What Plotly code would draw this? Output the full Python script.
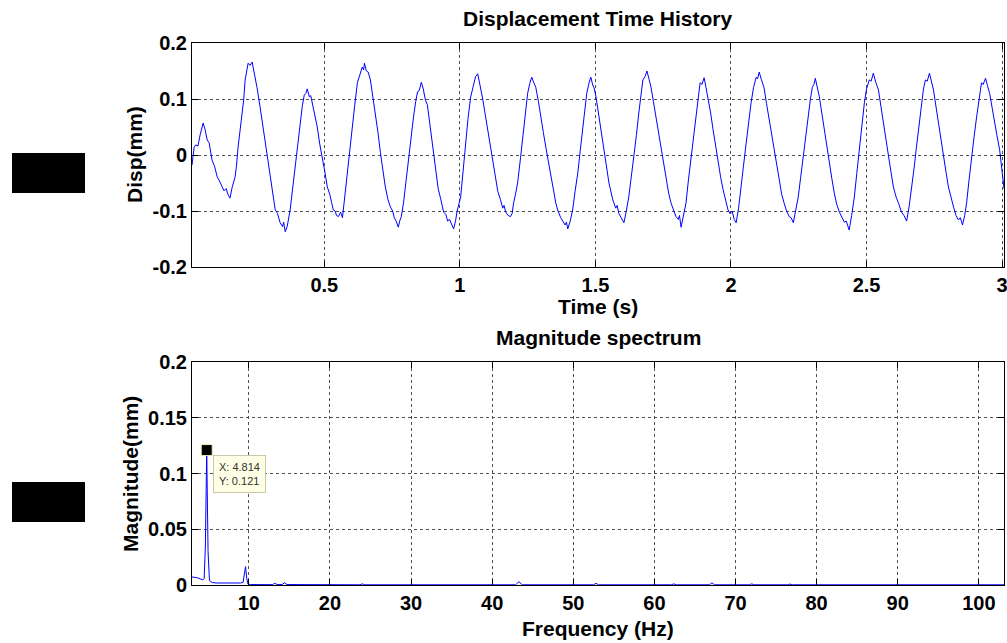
import plotly.graph_objects as go

# ---------------- data ----------------
time_s = [
    0.012, 0.016, 0.020, 0.026, 0.034, 0.042, 0.053, 0.060, 0.068, 0.075,
    0.086, 0.095, 0.105, 0.112, 0.123, 0.130, 0.138, 0.145, 0.152, 0.160,
    0.171, 0.176, 0.182, 0.190, 0.197, 0.203, 0.208, 0.214, 0.219, 0.226,
    0.234, 0.240, 0.245, 0.252, 0.263, 0.272, 0.282, 0.290, 0.300, 0.310,
    0.319, 0.327, 0.337, 0.346, 0.350, 0.356, 0.363, 0.374, 0.384, 0.393,
    0.402, 0.411, 0.419, 0.426, 0.432, 0.437, 0.445, 0.450, 0.456, 0.465,
    0.474, 0.483, 0.493, 0.502, 0.511, 0.520, 0.527, 0.533, 0.540, 0.545,
    0.552, 0.560, 0.567, 0.576, 0.585, 0.594, 0.603, 0.612, 0.622, 0.630,
    0.636, 0.640, 0.645, 0.648, 0.655, 0.662, 0.670, 0.680, 0.689, 0.698,
    0.707, 0.716, 0.725, 0.735, 0.744, 0.752, 0.758, 0.765, 0.773, 0.778,
    0.784, 0.792, 0.800, 0.810, 0.820, 0.829, 0.837, 0.844, 0.850, 0.858,
    0.865, 0.873, 0.880, 0.892, 0.900, 0.910, 0.920, 0.930, 0.940, 0.948,
    0.955, 0.962, 0.970, 0.977, 0.984, 0.990, 1.003, 1.012, 1.021, 1.030,
    1.040, 1.048, 1.058, 1.066, 1.072, 1.077, 1.085, 1.095, 1.104, 1.113,
    1.122, 1.132, 1.140, 1.150, 1.158, 1.163, 1.169, 1.178, 1.187, 1.193,
    1.198, 1.206, 1.213, 1.224, 1.235, 1.242, 1.250, 1.258, 1.265, 1.272,
    1.280, 1.290, 1.298, 1.308, 1.317, 1.326, 1.335, 1.345, 1.354, 1.362,
    1.372, 1.380, 1.388, 1.393, 1.398, 1.407, 1.416, 1.425, 1.435, 1.444,
    1.453, 1.460, 1.468, 1.476, 1.483, 1.490, 1.495, 1.502, 1.511, 1.520,
    1.529, 1.538, 1.550, 1.564, 1.575, 1.580, 1.586, 1.595, 1.605, 1.612,
    1.623, 1.632, 1.642, 1.651, 1.660, 1.668, 1.675, 1.683, 1.690, 1.698,
    1.705, 1.714, 1.723, 1.732, 1.742, 1.751, 1.760, 1.770, 1.779, 1.788,
    1.797, 1.806, 1.810, 1.816, 1.825, 1.834, 1.843, 1.853, 1.862, 1.871,
    1.879, 1.886, 1.893, 1.901, 1.908, 1.915, 1.925, 1.934, 1.943, 1.952,
    1.962, 1.971, 1.980, 1.989, 1.997, 2.004, 2.012, 2.019, 2.028, 2.037,
    2.046, 2.056, 2.065, 2.074, 2.083, 2.093, 2.098, 2.104, 2.112, 2.122,
    2.131, 2.141, 2.150, 2.159, 2.168, 2.178, 2.187, 2.196, 2.205, 2.215,
    2.222, 2.230, 2.239, 2.248, 2.257, 2.266, 2.276, 2.285, 2.293, 2.300,
    2.306, 2.311, 2.318, 2.326, 2.335, 2.344, 2.353, 2.363, 2.372, 2.381,
    2.390, 2.400, 2.409, 2.418, 2.425, 2.436, 2.445, 2.455, 2.464, 2.473,
    2.482, 2.492, 2.500, 2.510, 2.517, 2.525, 2.534, 2.544, 2.553, 2.562,
    2.571, 2.581, 2.590, 2.599, 2.609, 2.618, 2.624, 2.629, 2.638, 2.648,
    2.657, 2.666, 2.675, 2.684, 2.694, 2.703, 2.710, 2.717, 2.724, 2.732,
    2.740, 2.747, 2.756, 2.765, 2.775, 2.784, 2.793, 2.802, 2.812, 2.821,
    2.830, 2.839, 2.846, 2.854, 2.862, 2.869, 2.878, 2.887, 2.896, 2.906,
    2.915, 2.924, 2.930, 2.939, 2.946, 2.954, 2.963, 2.972, 2.981, 2.991,
    3.000, 3.007,
]
disp_mm = [
    -0.018, -0.004, 0.014, 0.018, 0.016, 0.036, 0.057, 0.046, 0.027, 0.022,
    -0.009, -0.020, -0.039, -0.045, -0.057, -0.064, -0.060, -0.071, -0.077, -0.058,
    -0.039, -0.020, 0.014, 0.048, 0.086, 0.100, 0.134, 0.150, 0.164, 0.160,
    0.166, 0.150, 0.134, 0.120, 0.086, 0.055, 0.027, -0.005, -0.032, -0.068,
    -0.098, -0.104, -0.121, -0.128, -0.120, -0.137, -0.128, -0.098, -0.055, -0.014,
    0.018, 0.057, 0.088, 0.107, 0.110, 0.118, 0.104, 0.106, 0.093, 0.070,
    0.050, 0.020, -0.004, -0.030, -0.057, -0.070, -0.085, -0.098, -0.100, -0.108,
    -0.110, -0.102, -0.112, -0.070, -0.027, 0.010, 0.045, 0.088, 0.129, 0.142,
    0.150, 0.157, 0.152, 0.164, 0.150, 0.148, 0.134, 0.100, 0.075, 0.040,
    0.004, -0.030, -0.057, -0.080, -0.093, -0.100, -0.112, -0.118, -0.129, -0.118,
    -0.110, -0.086, -0.050, -0.014, 0.030, 0.068, 0.095, 0.113, 0.115, 0.130,
    0.118, 0.098, 0.090, 0.045, 0.010, -0.027, -0.060, -0.080, -0.102, -0.106,
    -0.118, -0.115, -0.125, -0.132, -0.118, -0.100, -0.075, -0.025, 0.027, 0.065,
    0.104, 0.122, 0.140, 0.145, 0.132, 0.120, 0.098, 0.068, 0.040, 0.014,
    -0.015, -0.045, -0.065, -0.080, -0.095, -0.090, -0.102, -0.108, -0.110, -0.104,
    -0.086, -0.068, -0.050, -0.004, 0.050, 0.080, 0.110, 0.128, 0.139, 0.130,
    0.121, 0.095, 0.068, 0.040, 0.014, -0.012, -0.039, -0.065, -0.086, -0.100,
    -0.112, -0.118, -0.125, -0.120, -0.132, -0.118, -0.098, -0.065, -0.032, 0.008,
    0.045, 0.080, 0.110, 0.128, 0.139, 0.125, 0.120, 0.104, 0.075, 0.045,
    0.015, -0.014, -0.050, -0.080, -0.095, -0.090, -0.104, -0.112, -0.121, -0.105,
    -0.075, -0.040, -0.004, 0.035, 0.075, 0.110, 0.134, 0.140, 0.150, 0.135,
    0.121, 0.095, 0.068, 0.040, 0.009, -0.018, -0.045, -0.068, -0.086, -0.100,
    -0.110, -0.115, -0.108, -0.129, -0.110, -0.086, -0.045, -0.004, 0.035, 0.075,
    0.105, 0.129, 0.126, 0.138, 0.120, 0.104, 0.075, 0.045, 0.015, -0.014,
    -0.040, -0.062, -0.082, -0.098, -0.105, -0.100, -0.115, -0.121, -0.095, -0.062,
    -0.020, 0.021, 0.058, 0.093, 0.120, 0.139, 0.136, 0.148, 0.135, 0.120,
    0.092, 0.063, 0.033, 0.004, -0.023, -0.050, -0.070, -0.086, -0.100, -0.110,
    -0.112, -0.121, -0.100, -0.075, -0.040, -0.004, 0.035, 0.075, 0.100, 0.121,
    0.126, 0.137, 0.120, 0.104, 0.075, 0.045, 0.015, -0.014, -0.042, -0.068,
    -0.088, -0.102, -0.110, -0.120, -0.118, -0.134, -0.108, -0.075, -0.033, 0.009,
    0.050, 0.093, 0.118, 0.134, 0.132, 0.146, 0.130, 0.116, 0.087, 0.057,
    0.027, -0.004, -0.030, -0.057, -0.075, -0.086, -0.095, -0.102, -0.108, -0.118,
    -0.092, -0.062, -0.025, 0.014, 0.055, 0.093, 0.118, 0.134, 0.132, 0.146,
    0.128, 0.116, 0.087, 0.057, 0.027, -0.004, -0.030, -0.057, -0.078, -0.093,
    -0.108, -0.116, -0.112, -0.125, -0.108, -0.086, -0.045, -0.004, 0.030, 0.068,
    0.100, 0.129, 0.126, 0.137, 0.124, 0.110, 0.085, 0.057, 0.035, 0.009,
    -0.025, -0.060,
]

freq_hz = [
    3.0, 3.33, 3.67, 4.0, 4.33, 4.5, 4.65, 4.814, 4.98, 5.15,
    5.5, 6.0, 7.0, 8.0, 9.0, 9.3, 9.45, 9.6, 9.75, 9.9,
    10.2, 11.0, 12.0, 12.9, 13.2, 13.5, 14.1, 14.4, 14.7, 16.0,
    20.0, 23.7, 24.0, 24.3, 30.0, 40.0, 42.9, 43.3, 43.7, 50.0,
    52.5, 52.8, 53.1, 60.0, 62.1, 62.4, 62.7, 66.8, 67.1, 67.4,
    71.7, 72.0, 72.3, 76.4, 76.7, 77.0, 81.3, 81.6, 81.9, 90.8,
    91.1, 91.4, 103.1,
]
mag_mm = [
    0.0072, 0.0070, 0.0065, 0.0055, 0.0045, 0.0060, 0.0350, 0.1210, 0.0300, 0.0040,
    0.0022, 0.0018, 0.0016, 0.0016, 0.0018, 0.0025, 0.0080, 0.0165, 0.0060, 0.0008,
    0.0004, 0.0003, 0.0003, 0.0003, 0.0015, 0.0004, 0.0004, 0.0020, 0.0004, 0.0003,
    0.0002, 0.0002, 0.0010, 0.0002, 0.0002, 0.0002, 0.0002, 0.0030, 0.0002, 0.0002,
    0.0002, 0.0015, 0.0002, 0.0002, 0.0002, 0.0010, 0.0002, 0.0002, 0.0020, 0.0002,
    0.0002, 0.0010, 0.0002, 0.0002, 0.0008, 0.0002, 0.0002, 0.0008, 0.0002, 0.0002,
    0.0008, 0.0002, 0.0002,
]

tip_x = [4.814]
tip_y = [0.121]

top_xticks = [0.5, 1, 1.5, 2, 2.5, 3]
top_xtext = ["0.5", "1", "1.5", "2", "2.5", "3"]
top_yticks = [-0.2, -0.1, 0, 0.1, 0.2]
top_ytext = ["-0.2", "-0.1", "0", "0.1", "0.2"]
bot_xticks = [10, 20, 30, 40, 50, 60, 70, 80, 90, 100]
bot_xtext = ["10", "20", "30", "40", "50", "60", "70", "80", "90", "100"]
bot_yticks = [0, 0.05, 0.1, 0.15, 0.2]
bot_ytext = ["0", "0.05", "0.1", "0.15", "0.2"]

assert len(time_s) == len(disp_mm)
assert len(freq_hz) == len(mag_mm)

# ---------------- figure ----------------
W, H = 1007, 643
FONT = "Arial, Liberation Sans, sans-serif"
BLUE = "#0000ff"
FS = 20
FT = 21

def px(x):
    return x / W

def py(y):
    return 1 - y / H

fig = go.Figure()
fig.add_trace(go.Scatter(x=time_s, y=disp_mm, mode="lines",
                         line=dict(color=BLUE, width=1),
                         xaxis="x", yaxis="y", showlegend=False))
fig.add_trace(go.Scatter(x=freq_hz, y=mag_mm, mode="lines",
                         line=dict(color=BLUE, width=1),
                         xaxis="x2", yaxis="y2", showlegend=False))
fig.add_trace(go.Scatter(x=tip_x, y=tip_y, mode="markers",
                         marker=dict(symbol="square", size=11, color="black",
                                     line=dict(color="#f0f0c0", width=1)),
                         xaxis="x2", yaxis="y2", showlegend=False))

axis_common = dict(
    automargin=False,
    showline=True, linecolor="black", linewidth=1, mirror="ticks",
    ticks="inside", ticklen=6, tickwidth=1, tickcolor="black",
    showgrid=True, gridcolor="#505050", griddash="dot", gridwidth=1,
    zeroline=False, ticklabeloverflow="allow",
    tickfont=dict(family=FONT, size=FS, color="black", weight="bold"),
)

fig.update_layout(
    width=W, height=H,
    margin=dict(l=0, r=0, t=0, b=0, autoexpand=False),
    paper_bgcolor="white", plot_bgcolor="white",
    showlegend=False,
    xaxis=dict(domain=[px(192), px(1004)], range=[0.012, 3.007],
               tickvals=top_xticks, ticktext=top_xtext, anchor="y", **axis_common),
    yaxis=dict(domain=[py(267), py(43)], range=[-0.2, 0.2],
               tickvals=top_yticks, ticktext=top_ytext, anchor="x", **axis_common),
    xaxis2=dict(domain=[px(192), px(1004)], range=[3.0, 103.1],
                tickvals=bot_xticks, ticktext=bot_xtext, anchor="y2", **axis_common),
    yaxis2=dict(domain=[py(585), py(362)], range=[0, 0.2],
                tickvals=bot_yticks, ticktext=bot_ytext, anchor="x2", **axis_common),
)

def label(text, x, y, angle=0, size=FT):
    fig.add_annotation(text=text, x=x, y=y, xref="paper", yref="paper",
                       showarrow=False, textangle=angle,
                       xanchor="center", yanchor="middle",
                       font=dict(family=FONT, size=size, color="black", weight="bold"))

label("Displacement Time History", px(598), py(19))
label("Time (s)", px(598), py(306))
label("Magnitude spectrum", px(598), py(337))
label("Frequency (Hz)", px(598), py(628))
label("Disp(mm)", px(134), py(155), angle=-90)
label("Magnitude(mm)", px(130), py(474), angle=-90)

# data tip box
fig.add_annotation(text="X: 4.814<br>Y: 0.121", x=5.56, y=0.1166,
                   xref="x2", yref="y2", showarrow=False,
                   xanchor="left", yanchor="top", align="left",
                   bgcolor="#ffffe6", bordercolor="#c8c8a8", borderwidth=1, borderpad=5,
                   font=dict(family=FONT, size=11, color="#333333"))

# redaction boxes
for y0, y1 in [(153, 193), (482, 522)]:
    fig.add_shape(type="rect", xref="paper", yref="paper",
                  x0=px(12), x1=px(85), y0=py(y1), y1=py(y0),
                  fillcolor="black", line=dict(width=0))

fig.write_html("out.html",
               config={"displayModeBar": False},
               post_script="document.body.style.margin='0px';document.body.style.padding='0px';")
